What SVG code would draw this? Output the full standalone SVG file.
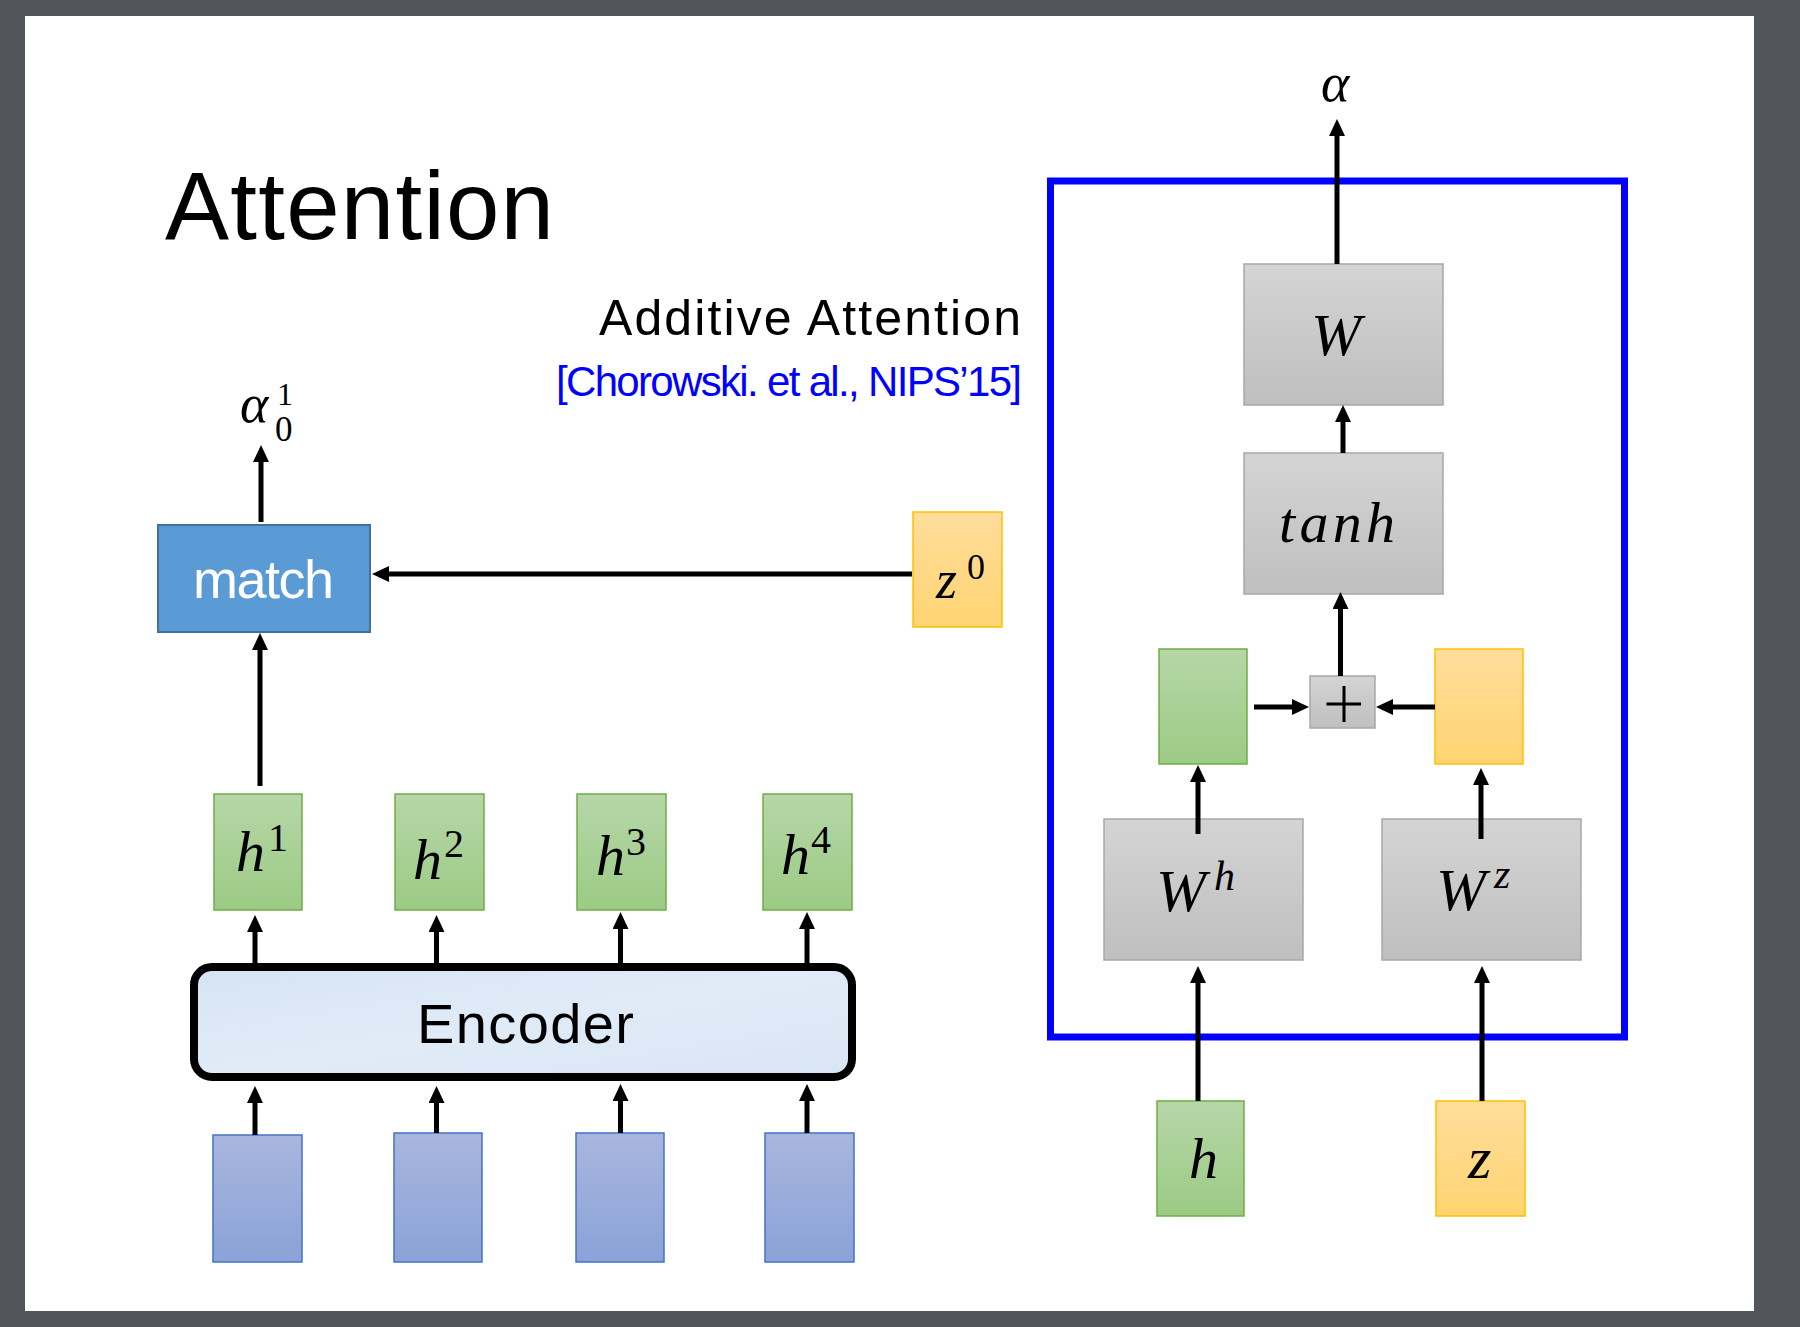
<svg xmlns="http://www.w3.org/2000/svg" width="1800" height="1327" viewBox="0 0 1800 1327">
<defs>
<linearGradient id="gGray" x1="0" y1="0" x2="0" y2="1"><stop offset="0" stop-color="#d4d4d4"/><stop offset="1" stop-color="#bfbfbf"/></linearGradient>
<linearGradient id="gGreen" x1="0" y1="0" x2="0" y2="1"><stop offset="0" stop-color="#b6d6a7"/><stop offset="1" stop-color="#9ccb85"/></linearGradient>
<linearGradient id="gYellow" x1="0" y1="0" x2="0" y2="1"><stop offset="0" stop-color="#ffdd9c"/><stop offset="1" stop-color="#ffd471"/></linearGradient>
<linearGradient id="gInput" x1="0" y1="0" x2="0" y2="1"><stop offset="0" stop-color="#a9b6de"/><stop offset="1" stop-color="#8aa2d8"/></linearGradient>
<linearGradient id="gEnc" x1="0" y1="0" x2="1" y2="1"><stop offset="0" stop-color="#d6e4f3"/><stop offset="0.5" stop-color="#e0ebf7"/><stop offset="1" stop-color="#d8e5f4"/></linearGradient>
<marker id="ah" markerUnits="userSpaceOnUse" markerWidth="17" markerHeight="16" refX="0" refY="8" orient="auto" viewBox="0 0 17 16"><path d="M0,0 L17,8 L0,16 z" fill="#000"/></marker>
</defs>
<style>
.sans{font-family:"Liberation Sans","Noto Sans",Arial,sans-serif;}
.math{font-family:"Liberation Serif","DejaVu Serif",serif;font-style:italic;fill:#000;}
.num{font-family:"Liberation Serif","DejaVu Serif",serif;fill:#000;}
.gray{fill:url(#gGray);stroke:#a8a8a8;stroke-width:1.5;}
.green{fill:url(#gGreen);stroke:#70ad47;stroke-width:1.5;}
.yellow{fill:url(#gYellow);stroke:#ffc000;stroke-width:1.5;}
.input{fill:url(#gInput);stroke:#4472c4;stroke-width:1.5;}
.conn line{stroke:#000;stroke-width:5;marker-end:url(#ah);}
</style>
<rect x="0" y="0" width="1800" height="1327" fill="#52565a"/>
<rect x="25" y="16" width="1729" height="1295" fill="#ffffff"/>

<text class="sans" x="165" y="239" font-size="96" textLength="389" fill="#000">Attention</text>
<text class="sans" x="599" y="335" font-size="50" textLength="422" fill="#000">Additive Attention</text>
<text class="sans" x="556" y="396" font-size="42" textLength="466" fill="#0000ff">[Chorowski. et al., NIPS’15]</text>

<g id="alpha01">
<text class="math" x="240" y="422" font-size="54">α</text>
<text class="num" x="277" y="405" font-size="32">1</text>
<text class="num" x="275" y="441" font-size="35">0</text>
</g>

<g id="match">
<rect x="158" y="525" width="212" height="107" fill="#5b9bd5" stroke="#41719c" stroke-width="2"/>
<text class="sans" x="193" y="598" font-size="54" textLength="141" fill="#ffffff">match</text>
</g>

<g id="z0">
<rect class="yellow" x="913" y="512" width="89" height="115"/>
<text class="math" x="936" y="598" font-size="54">z</text>
<text class="num" x="967" y="579" font-size="36">0</text>
</g>

<g id="h1"><rect class="green" x="214" y="794" width="88" height="116"/><text class="math" x="236" y="871" font-size="58">h</text><text class="num" x="268" y="851" font-size="40">1</text></g>
<g id="h2"><rect class="green" x="395" y="794" width="89" height="116"/><text class="math" x="413" y="879" font-size="58">h</text><text class="num" x="444" y="857" font-size="40">2</text></g>
<g id="h3"><rect class="green" x="577" y="794" width="89" height="116"/><text class="math" x="596" y="875" font-size="58">h</text><text class="num" x="626" y="855" font-size="40">3</text></g>
<g id="h4"><rect class="green" x="763" y="794" width="89" height="116"/><text class="math" x="781" y="874" font-size="58">h</text><text class="num" x="811" y="853" font-size="40">4</text></g>

<g id="encoder">
<rect x="194" y="967" width="658" height="110" rx="18" ry="18" fill="url(#gEnc)" stroke="#000" stroke-width="8"/>
<text class="sans" x="417" y="1043" font-size="56" textLength="217" fill="#000">Encoder</text>
</g>

<g id="x1"><rect class="input" x="213" y="1135" width="89" height="127"/></g>
<g id="x2"><rect class="input" x="394" y="1133" width="88" height="129"/></g>
<g id="x3"><rect class="input" x="576" y="1133" width="88" height="129"/></g>
<g id="x4"><rect class="input" x="765" y="1133" width="89" height="129"/></g>

<g id="attention-box">
<rect x="1050.5" y="181" width="574" height="856" fill="none" stroke="#0000ff" stroke-width="7"/>
</g>

<g id="alpha">
<text class="math" x="1321" y="101" font-size="54">α</text>
</g>

<g id="W"><rect class="gray" x="1244" y="264" width="199" height="141"/><text class="math" x="1311" y="355" font-size="60">W</text></g>
<g id="tanh"><rect class="gray" x="1244" y="453" width="199" height="141"/><text class="math" x="1279" y="542" font-size="58" textLength="116">tanh</text></g>
<g id="plus"><rect class="gray" x="1310" y="676" width="65" height="52"/><path d="M1326.5,704 H1361 M1344,686 V722" stroke="#000" stroke-width="3" fill="none"/></g>
<g id="hproj"><rect class="green" x="1159" y="649" width="88" height="115"/></g>
<g id="zproj"><rect class="yellow" x="1435" y="649" width="88" height="115"/></g>
<g id="Wh"><rect class="gray" x="1104" y="819" width="199" height="141"/><text class="math" x="1156" y="911" font-size="60">W</text><text class="math" x="1214" y="890" font-size="42">h</text></g>
<g id="Wz"><rect class="gray" x="1382" y="819" width="199" height="141"/><text class="math" x="1436" y="910" font-size="60">W</text><text class="math" x="1494" y="888" font-size="42">z</text></g>
<g id="h"><rect class="green" x="1157" y="1101" width="87" height="115"/><text class="math" x="1189" y="1178" font-size="58">h</text></g>
<g id="z"><rect class="yellow" x="1436" y="1101" width="89" height="115"/><text class="math" x="1468" y="1178" font-size="60">z</text></g>

<g id="connectors" class="conn">
<line x1="261" y1="522" x2="261" y2="462"/>
<line x1="912" y1="574" x2="389" y2="574"/>
<line x1="260" y1="786" x2="260" y2="650"/>
<line x1="255" y1="963" x2="255" y2="932"/>
<line x1="436.5" y1="963" x2="436.5" y2="932"/>
<line x1="620.5" y1="963" x2="620.5" y2="929"/>
<line x1="807" y1="963" x2="807" y2="929"/>
<line x1="255" y1="1135" x2="255" y2="1103"/>
<line x1="436.5" y1="1133" x2="436.5" y2="1103"/>
<line x1="620.5" y1="1133" x2="620.5" y2="1101"/>
<line x1="807" y1="1133" x2="807" y2="1101"/>
<line x1="1337" y1="264" x2="1337" y2="136"/>
<line x1="1343" y1="453" x2="1343" y2="422"/>
<line x1="1340.5" y1="676" x2="1340.5" y2="609"/>
<line x1="1254" y1="707" x2="1292" y2="707"/>
<line x1="1435" y1="707" x2="1393" y2="707"/>
<line x1="1198" y1="834" x2="1198" y2="782"/>
<line x1="1481" y1="839" x2="1481" y2="785"/>
<line x1="1198" y1="1101" x2="1198" y2="983"/>
<line x1="1482" y1="1101" x2="1482" y2="983"/>
</g>
</svg>
